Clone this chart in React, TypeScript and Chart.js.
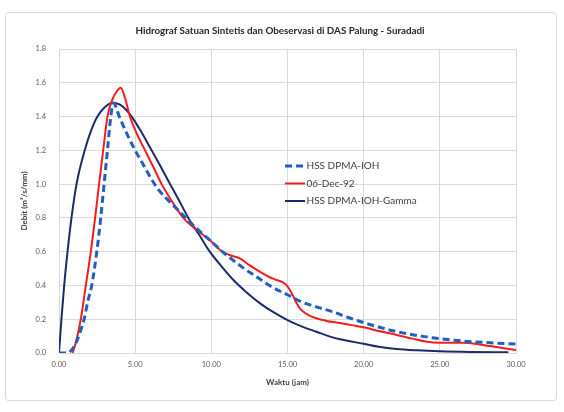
import React, { useEffect, useRef } from "react";
import { Chart, registerables } from "chart.js";

Chart.register(...registerables);

const W = 564;
const H = 412;

const chartTitle = "Hidrograf Satuan Sintetis dan Obeservasi di DAS Palung - Suradadi";
const xAxisTitle = "Waktu (jam)";
const yAxisTitle = "Debit (m³/s/mm)";

// HSS DPMA-IOH (synthetic unit hydrograph)
const dpmaLabel = "HSS DPMA-IOH";
const dpmaTimes = [0, 0.55, 0.8, 1.0, 1.21, 1.45, 1.65, 1.9, 2.15, 2.48, 2.74, 2.96, 3.18, 3.4, 3.57, 4.0, 4.5, 5.0, 5.5, 6.0, 6.5, 7.0, 8.0, 9.0, 10.0, 10.6, 11.0, 12.0, 13.0, 14.0, 15.0, 16.0, 17.0, 18.0, 19.0, 20.0, 22.0, 24.0, 26.0, 28.0, 30.0];
const dpmaValues = [0, 0, 0.015, 0.04, 0.08, 0.14, 0.2, 0.31, 0.4, 0.6, 0.8, 1.0, 1.2, 1.4, 1.48, 1.39, 1.29, 1.2, 1.12, 1.04, 0.97, 0.92, 0.83, 0.74, 0.66, 0.61, 0.58, 0.51, 0.45, 0.39, 0.345, 0.3, 0.27, 0.243, 0.21, 0.18, 0.13, 0.097, 0.075, 0.062, 0.053];

// Observed hydrograph, 06-Dec-92
const obsLabel = "06-Dec-92";
const obsTimes = [0.89, 1.1, 1.43, 1.76, 2.09, 2.37, 2.63, 2.9, 3.18, 3.5, 3.8, 4.05, 4.3, 4.66, 5.1, 5.65, 6.2, 6.74, 7.4, 8.16, 9.3, 10.0, 10.57, 11.2, 11.88, 12.5, 13.2, 13.8, 14.29, 14.7, 15.0, 15.3, 15.6, 15.9, 16.48, 17.57, 18.45, 19.2, 20.0, 21.0, 22.17, 23.2, 24.14, 25.0, 26.55, 27.5, 28.3, 30.0];
const obsValues = [0, 0.06, 0.2, 0.4, 0.6, 0.8, 1.0, 1.2, 1.4, 1.5, 1.55, 1.57, 1.52, 1.4, 1.3, 1.2, 1.1, 1.0, 0.9, 0.8, 0.71, 0.66, 0.61, 0.58, 0.56, 0.52, 0.48, 0.45, 0.432, 0.418, 0.395, 0.35, 0.295, 0.255, 0.22, 0.19, 0.178, 0.165, 0.152, 0.13, 0.107, 0.085, 0.067, 0.061, 0.061, 0.052, 0.041, 0.018];

// HSS DPMA-IOH-Gamma
const gammaLabel = "HSS DPMA-IOH-Gamma";
const gammaTimes = [0, 0.16, 0.34, 0.56, 0.82, 1.15, 1.69, 2.1, 2.52, 3.0, 3.5, 4.0, 4.4, 4.77, 5.4, 6.08, 6.7, 7.29, 7.9, 8.49, 9.2, 9.9, 10.6, 11.45, 12.3, 13.2, 14.1, 15.0, 16.0, 16.9, 17.8, 18.45, 20.0, 21.0, 22.17, 23.5, 25.0, 27.0, 29.5];
const gammaValues = [0, 0.2, 0.4, 0.6, 0.8, 1.0, 1.2, 1.315, 1.4, 1.455, 1.482, 1.47, 1.44, 1.4, 1.31, 1.2, 1.1, 1.0, 0.9, 0.8, 0.7, 0.6, 0.52, 0.432, 0.36, 0.294, 0.24, 0.195, 0.155, 0.126, 0.097, 0.081, 0.055, 0.037, 0.024, 0.016, 0.01, 0.006, 0.004];

const xTickMax = 30;
const xTickStep = 5;
const yTickMax = 1.8;
const yTickStep = 0.2;

const toPoints = (xs: number[], ys: number[]) => xs.map((x, i) => ({ x, y: ys[i] }));

const FONT = "Lato, 'Open Sans', sans-serif";

// Frame, chart title and the in-plot legend
const decorPlugin = {
  id: "decor",
  beforeDraw(chart: any) {
    const { ctx } = chart;
    ctx.save();
    ctx.fillStyle = "#ffffff";
    ctx.fillRect(0, 0, W, H);
    ctx.strokeStyle = "#d9d9d9";
    ctx.lineWidth = 1;
    ctx.beginPath();
    ctx.roundRect(5.5, 12.5, 551, 388, 3);
    ctx.stroke();
    ctx.restore();
  },
  afterDraw(chart: any) {
    const { ctx } = chart;
    ctx.save();
    ctx.fillStyle = "#262626";
    ctx.font = `bold 9.8px ${FONT}`;
    ctx.textAlign = "center";
    ctx.textBaseline = "middle";
    ctx.fillText(chartTitle, 280, 31);

    const x0 = 285;
    const x1 = 305;
    const ys = [166, 183.5, 201];
    chart.data.datasets.forEach((ds: any, i: number) => {
      const y = ys[i];
      ctx.strokeStyle = ds.borderColor;
      ctx.lineWidth = ds.borderWidth;
      ctx.setLineDash(ds.borderDash || []);
      ctx.beginPath();
      ctx.moveTo(x0, y);
      ctx.lineTo(x1, y);
      ctx.stroke();
      ctx.setLineDash([]);
      ctx.fillStyle = "#404040";
      ctx.font = `10px ${FONT}`;
      ctx.textAlign = "left";
      ctx.textBaseline = "middle";
      ctx.fillText(ds.label, x1 + 1.5, y);
    });
    ctx.restore();
  },
};

export default function App() {
  const canvasRef = useRef<HTMLCanvasElement | null>(null);

  useEffect(() => {
    if (!canvasRef.current) return;
    const chart = new Chart(canvasRef.current, {
      type: "line",
      data: {
        datasets: [
          {
            label: dpmaLabel,
            data: toPoints(dpmaTimes, dpmaValues),
            borderColor: "#1f5fbf",
            borderWidth: 3,
            borderDash: [7, 4],
            pointRadius: 0,
            cubicInterpolationMode: "monotone",
            fill: false,
          },
          {
            label: obsLabel,
            data: toPoints(obsTimes, obsValues),
            borderColor: "#f51c1c",
            borderWidth: 2,
            pointRadius: 0,
            cubicInterpolationMode: "monotone",
            fill: false,
          },
          {
            label: gammaLabel,
            data: toPoints(gammaTimes, gammaValues),
            borderColor: "#1c2a6c",
            borderWidth: 2,
            pointRadius: 0,
            cubicInterpolationMode: "monotone",
            fill: false,
          },
        ],
      },
      options: {
        responsive: false,
        animation: false,
        devicePixelRatio: 1,
        layout: { padding: { top: 49, right: 48, left: 0, bottom: 0 } },
        plugins: {
          legend: { display: false },
          title: { display: false },
          tooltip: { enabled: false },
        },
        scales: {
          x: {
            type: "linear",
            min: 0,
            max: xTickMax,
            afterFit: (scale: any) => {
              scale.height = 59;
            },
            ticks: {
              stepSize: xTickStep,
              padding: 7.5,
              color: "#595959",
              font: { family: FONT, size: 7.5 },
              maxRotation: 0,
              callback: (v: any) => Number(v).toFixed(2),
            },
            grid: { color: "#d9d9d9", drawTicks: false },
            border: { display: true, color: "#d9d9d9" },
            title: {
              display: true,
              text: xAxisTitle,
              color: "#404040",
              font: { family: FONT, size: 8, weight: "bold" },
              padding: { top: 0, bottom: 25 },
            },
          },
          y: {
            min: 0,
            max: yTickMax,
            afterFit: (scale: any) => {
              scale.width = 59;
            },
            ticks: {
              stepSize: yTickStep,
              padding: 13,
              color: "#595959",
              font: { family: FONT, size: 7.5 },
              callback: (v: any) => Number(v).toFixed(1),
            },
            grid: { color: "#d9d9d9", drawTicks: false },
            border: { display: false },
            title: {
              display: true,
              text: yAxisTitle,
              color: "#404040",
              font: { family: FONT, size: 8, weight: "bold" },
              padding: { top: 20, bottom: 0 },
            },
          },
        },
      },
      plugins: [decorPlugin],
    } as any);
    return () => chart.destroy();
  }, []);

  return (
    <div style={{ position: "fixed", left: 0, top: 0, width: W, height: H, background: "#fff" }}>
      <canvas ref={canvasRef} width={W} height={H} style={{ display: "block" }} />
    </div>
  );
}
